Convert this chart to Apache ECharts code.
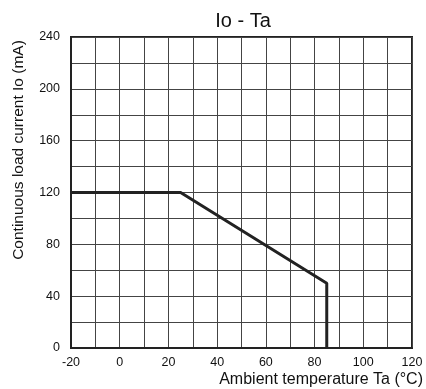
<!DOCTYPE html>
<html><head><meta charset="utf-8">
<script src="https://cdn.jsdelivr.net/npm/echarts@6/dist/echarts.min.js"></script>
<style>html,body{margin:0;padding:0;background:#fff}#c{width:426px;height:389px}</style>
</head><body><div id="c"></div>
<script>
const temps = [-20, 25, 85, 85];
const currents = [120, 120, 50, 0];
const xTicks = [-20, 0, 20, 40, 60, 80, 100, 120];
const yTicks = [0, 40, 80, 120, 160, 200, 240];
const FONT = 'Liberation Sans, Arial, Helvetica, sans-serif';
const chart = echarts.init(document.getElementById('c'));
chart.setOption({
  animation: false,
  title: { text: 'Io - Ta', left: 238, top: 6, textAlign: 'center',
    textStyle: { fontFamily: FONT, fontWeight: 'normal', fontSize: 20, color: '#111' } },
  grid: { left: 71, right: 11, top: 37, bottom: 41, show: true, borderColor: '#222', borderWidth: 2, containLabel: false },
  graphic: [{
    type: 'text', rotation: Math.PI / 2,
    x: 19, y: 150,
    style: { text: 'Continuous load current Io (mA)', fontFamily: FONT, fontSize: 15.5, fill: '#111',
      align: 'center', verticalAlign: 'middle' }
  }],
  xAxis: {
    type: 'value', min: -20, max: 120, interval: 10,
    name: 'Ambient temperature Ta (°C)', nameLocation: 'end', nameGap: 0,
    nameTextStyle: { fontFamily: FONT, fontSize: 16, color: '#111', align: 'right', verticalAlign: 'top', padding: [24, -11, 0, 0] },
    axisLine: { onZero: false, lineStyle: { color: '#222', width: 2 } },
    axisTick: { show: false },
    axisLabel: { fontFamily: FONT, fontSize: 12.5, color: '#111', margin: 8,
      formatter: v => xTicks.includes(v) ? String(v) : '' },
    splitLine: { lineStyle: { color: '#444', width: 1 } }
  },
  yAxis: {
    type: 'value', min: 0, max: 240, interval: 20,
    axisLine: { show: true, onZero: false, lineStyle: { color: '#222', width: 2 } },
    axisTick: { show: false },
    axisLabel: { fontFamily: FONT, fontSize: 12.5, color: '#111', margin: 11,
      formatter: v => yTicks.includes(v) ? String(v) : '' },
    splitLine: { lineStyle: { color: '#444', width: 1 } }
  },
  series: [{
    type: 'line', data: temps.map((t, i) => [t, currents[i]]),
    symbol: 'none', lineStyle: { color: '#222', width: 3 }
  }]
});
</script></body></html>
